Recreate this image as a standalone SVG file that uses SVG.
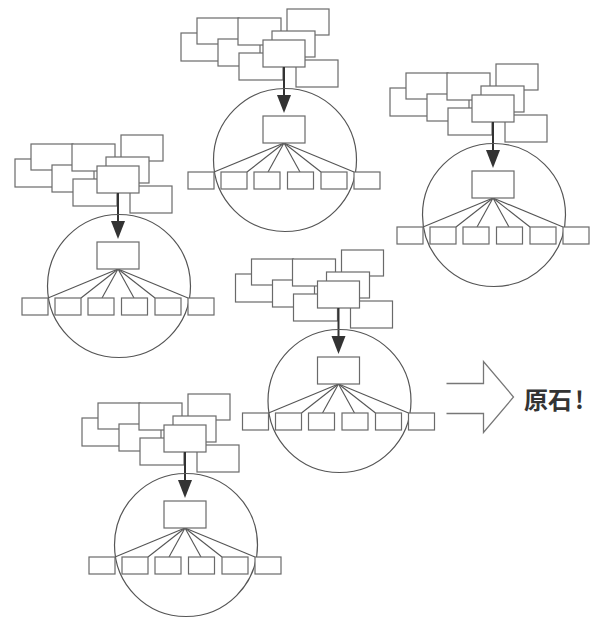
<svg xmlns="http://www.w3.org/2000/svg" xmlns:xlink="http://www.w3.org/1999/xlink" width="595" height="619" viewBox="0 0 595 619">
  <style>
    .box { fill: #ffffff; stroke: #6a6a6a; stroke-width: 1.2; }
    .ring { fill: none; stroke: #555555; stroke-width: 1.2; }
    .link { fill: none; stroke: #555555; stroke-width: 1.1; }
    .flow { fill: none; stroke: #333333; stroke-width: 2; }
    .head { fill: #333333; stroke: none; }
    .big { fill: #ffffff; stroke: #777777; stroke-width: 1.3; stroke-linejoin: miter; }
    .label { font-family: "Noto Sans CJK JP", "Noto Sans CJK SC", sans-serif; font-weight: bold; font-size: 24px; fill: #333333; }
  </style>
  <defs>
    <!-- One cluster, drawn around its hub point (0,0): a pile of notes above, a ring with a tree inside -->
    <g id="cluster">
      <g class="cloud">
        <rect class="box" x="-103" y="-127" width="42" height="28"/>
        <rect class="box" x="-87" y="-142" width="42" height="26"/>
        <rect class="box" x="-66" y="-121" width="42" height="27"/>
        <rect class="box" x="-46" y="-142" width="43" height="27"/>
        <rect class="box" x="3" y="-151" width="42" height="26"/>
        <rect class="box" x="-12" y="-129" width="43" height="26"/>
        <rect class="box" x="-45" y="-107" width="44" height="27"/>
        <rect class="box" x="12" y="-100" width="42" height="27"/>
        <rect class="box" x="-21" y="-120" width="42" height="27"/>
      </g>
      <g class="arrow">
        <line class="flow" x1="0" y1="-93" x2="0" y2="-60"/>
        <polygon class="head" points="-7,-65 7,-65 0,-47"/>
      </g>
      <circle class="ring" cx="1" cy="0" r="71.5"/>
      <g class="links">
        <line class="link" x1="0" y1="-17" x2="-70" y2="12"/>
        <line class="link" x1="0" y1="-17" x2="-37" y2="12"/>
        <line class="link" x1="0" y1="-17" x2="-16" y2="12"/>
        <line class="link" x1="0" y1="-17" x2="16" y2="12"/>
        <line class="link" x1="0" y1="-17" x2="37" y2="12"/>
        <line class="link" x1="0" y1="-17" x2="70" y2="12"/>
      </g>
      <rect class="box" x="-21" y="-44" width="42" height="27"/>
      <g class="row">
        <rect class="box" x="-96" y="12" width="26" height="17"/>
        <rect class="box" x="-63" y="12" width="26" height="17"/>
        <rect class="box" x="-30" y="12" width="26" height="17"/>
        <rect class="box" x="3.5" y="12" width="26" height="17"/>
        <rect class="box" x="37" y="12" width="26" height="17"/>
        <rect class="box" x="70" y="12" width="26" height="17"/>
      </g>
    </g>
  </defs>

  <rect width="595" height="619" fill="#ffffff"/>

  <g id="cluster-top"><use xlink:href="#cluster" href="#cluster" transform="translate(284,160)"/></g>
  <g id="cluster-right"><use xlink:href="#cluster" href="#cluster" transform="translate(493,215)"/></g>
  <g id="cluster-left"><use xlink:href="#cluster" href="#cluster" transform="translate(118,286)"/></g>
  <g id="cluster-middle"><use xlink:href="#cluster" href="#cluster" transform="translate(338.5,401)"/></g>
  <g id="cluster-bottom"><use xlink:href="#cluster" href="#cluster" transform="translate(185,545)"/></g>

  <g id="result">
    <polyline class="big" points="446.5,383.5 483.5,383.5 483.5,361.5 513.5,397 483.5,432.5 483.5,413.5 446.5,413.5"/>
    <text class="label" x="524" y="409">原石<tspan x="575">!</tspan></text>
  </g>
</svg>
